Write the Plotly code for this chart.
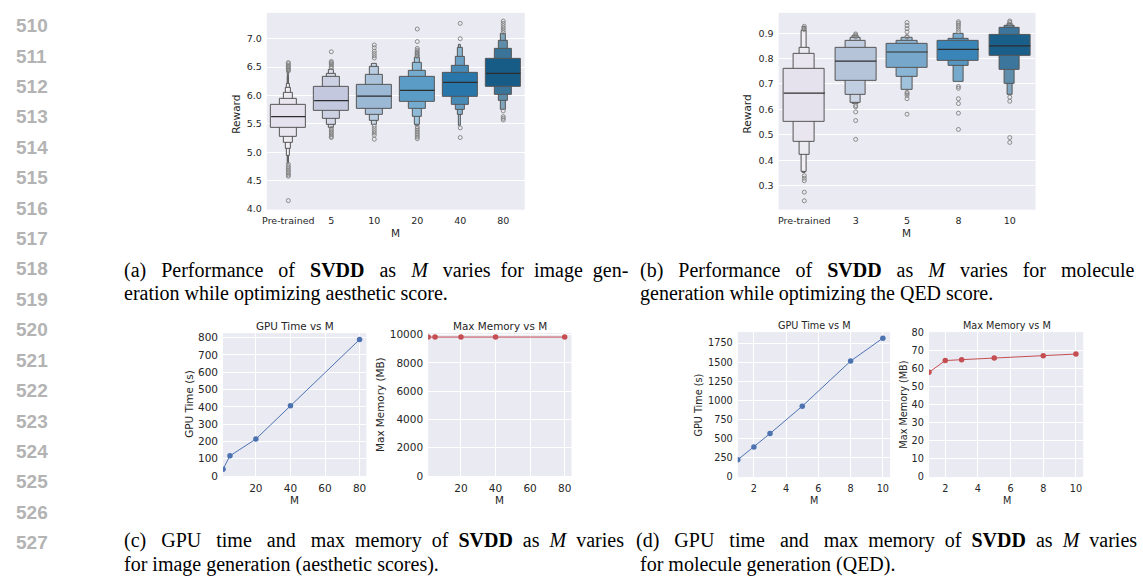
import plotly.graph_objects as go

W, H = 1143, 581

# ---------------- data ----------------
# (a) image generation, aesthetic reward: letter-value boxes (lo, hi), widest first
img_cats = ["Pre-trained", "5", "10", "20", "40", "80"]
img_median = [5.63, 5.91, 5.99, 6.09, 6.23, 6.39]
img_levels = [
    [(5.43, 5.84), (5.28, 5.95), (5.17, 6.04), (5.06, 6.13), (4.94, 6.20), (4.82, 6.32), (4.79, 6.42)],
    [(5.735, 6.145), (5.59, 6.33), (5.49, 6.385), (5.43, 6.46)],
    [(5.77, 6.19), (5.667, 6.356), (5.56, 6.51), (5.48, 6.556)],
    [(5.88, 6.33), (5.758, 6.44), (5.62, 6.567), (5.49, 6.67), (5.46, 6.76)],
    [(5.97, 6.396), (5.83, 6.527), (5.75, 6.68), (5.66, 6.84), (5.46, 6.90)],
    [(6.145, 6.64), (6.02, 6.818), (5.906, 6.97), (5.746, 7.085)],
]
img_outliers = [
    [6.43, 6.45, 6.47, 6.49, 6.51, 6.53, 6.56, 6.58, 4.79, 4.75, 4.72, 4.69, 4.66, 4.63, 4.60, 4.58, 4.15],
    [6.77, 6.60, 6.58, 6.56, 6.54, 6.51, 6.49, 5.42, 5.39, 5.36, 5.34, 5.31, 5.28, 5.26],
    [6.89, 6.84, 6.78, 6.74, 6.70, 6.66, 5.46, 5.42, 5.38, 5.34, 5.30, 5.23],
    [7.17, 6.95, 6.83, 6.80, 6.77, 6.74, 6.71, 6.69, 5.45, 5.42, 5.39, 5.36, 5.33, 5.30, 5.27, 5.24],
    [7.27, 7.00, 5.43, 5.26],
    [7.31, 7.27, 7.23, 7.19, 7.15, 7.11, 5.73, 5.63, 5.60, 5.57],
]
img_colors = ["#e5e2ed", "#c3c8de", "#9bb8d4", "#5b9cc6", "#2977aa", "#175c87"]

# (b) molecule generation, QED reward
mol_cats = ["Pre-trained", "3", "5", "8", "10"]
mol_median = [0.664, 0.790, 0.826, 0.836, 0.850]
mol_levels = [
    [(0.549, 0.761), (0.473, 0.817), (0.422, 0.843), (0.353, 0.910), (0.350, 0.925)],
    [(0.712, 0.844), (0.657, 0.868), (0.625, 0.882), (0.622, 0.890)],
    [(0.763, 0.859), (0.729, 0.871), (0.676, 0.882)],
    [(0.793, 0.868), (0.770, 0.878), (0.708, 0.897)],
    [(0.812, 0.894), (0.757, 0.920), (0.700, 0.929), (0.657, 0.935)],
]
mol_outliers = [
    [0.927, 0.920, 0.914, 0.339, 0.329, 0.319, 0.274, 0.240],
    [0.897, 0.893, 0.889, 0.885, 0.615, 0.610, 0.590, 0.556, 0.482],
    [0.942, 0.930, 0.918, 0.905, 0.887, 0.884, 0.667, 0.662, 0.655, 0.642, 0.581],
    [0.945, 0.939, 0.932, 0.925, 0.915, 0.906, 0.690, 0.683, 0.642, 0.623, 0.585, 0.521],
    [0.948, 0.943, 0.936, 0.648, 0.632, 0.489, 0.470],
]
mol_colors = ["#e5e2ed", "#b6c4da", "#77a8cc", "#3a85b7", "#1a5e8a"]

# (c) image generation cost
img_M = [1, 5, 20, 40, 80]
img_gpu_time = [40, 117, 214, 406, 789]
img_max_mem = [9820, 9820, 9820, 9820, 9820]

# (d) molecule generation cost
mol_M = [1, 2, 3, 5, 8, 10]
mol_gpu_time = [226, 393, 568, 926, 1515, 1814]
mol_max_mem = [57.8, 64.3, 64.8, 65.7, 67.0, 67.9]

# ---------------- styling ----------------
BG = "#eaeaf2"
TXT = "#262626"
EDGE = "#555555"
BLUE = "#4c72b0"
RED = "#c44e52"
SANS = "DejaVu Sans"
SERIF = "Liberation Serif"
NB = "\u00a0"


def px(x):
    return x / W


def py(y):
    return 1 - y / H


def lighten(hex_color, t):
    h = hex_color.lstrip("#")
    r, g, b = (int(h[i:i + 2], 16) for i in (0, 2, 4))
    r, g, b = (round(c + (255 - c) * t) for c in (r, g, b))
    return f"#{r:02x}{g:02x}{b:02x}"


def spread(text, total):
    """Justify a caption line by sharing `total` extra spaces among its word gaps."""
    words = text.split(" ")
    gaps = len(words) - 1
    out = words[0]
    for g, w in enumerate(words[1:]):
        n = total // gaps + (1 if g < total % gaps else 0)
        out += " " + NB * n + w
    return out


fig = go.Figure()
annotations = []


def axis_common(size):
    return dict(
        showline=False, zeroline=False, ticks="", ticklabelstandoff=4,
        gridcolor="white", gridwidth=1,
        tickfont=dict(family=SANS, size=size, color=TXT),
    )


def add_label(text, x, y, size, angle=0, family=SANS, xanchor="center", color=TXT):
    annotations.append(dict(
        text=text, x=px(x), y=py(y), xref="paper", yref="paper",
        showarrow=False, textangle=angle, xanchor=xanchor, yanchor="middle",
        font=dict(family=family, size=size, color=color),
    ))


def boxen(cats, medians, levels, outliers, colors, ax_id):
    xa = "x" if ax_id == 1 else f"x{ax_id}"
    ya = "y" if ax_id == 1 else f"y{ax_id}"
    for i, (lv, base) in enumerate(zip(levels, colors)):
        # narrowest level underneath, widest on top
        for k in reversed(range(len(lv))):
            lo, hi = lv[k]
            fig.add_trace(go.Bar(
                x=[i], base=[lo], y=[hi - lo], width=[0.8 * 0.5 ** k],
                marker=dict(color=lighten(base, min(0.15 * k, 0.85)),
                            line=dict(color=EDGE, width=1)),
                xaxis=xa, yaxis=ya, showlegend=False, hoverinfo="skip",
            ))
        fig.add_trace(go.Scatter(
            x=[i - 0.4, i + 0.4], y=[medians[i], medians[i]], mode="lines",
            line=dict(color="#2e2e2e", width=1.2),
            xaxis=xa, yaxis=ya, showlegend=False, hoverinfo="skip",
        ))
        fig.add_trace(go.Scatter(
            x=[i] * len(outliers[i]), y=outliers[i], mode="markers",
            marker=dict(symbol="circle-open", size=4, color="#808080",
                        line=dict(width=0.9, color="#808080")),
            xaxis=xa, yaxis=ya, showlegend=False, hoverinfo="skip",
        ))


def line(xs, ys, color, ax_id):
    fig.add_trace(go.Scatter(
        x=xs, y=ys, mode="lines+markers",
        line=dict(color=color, width=1),
        marker=dict(color=color, size=5.5),
        xaxis=f"x{ax_id}", yaxis=f"y{ax_id}", showlegend=False, hoverinfo="skip",
    ))


# (a) and (b) boxen plots
boxen(img_cats, img_median, img_levels, img_outliers, img_colors, 1)
boxen(mol_cats, mol_median, mol_levels, mol_outliers, mol_colors, 2)

# (c) and (d) cost curves
line(img_M, img_gpu_time, BLUE, 3)
line(img_M, img_max_mem, RED, 4)
line(mol_M, mol_gpu_time, BLUE, 5)
line(mol_M, mol_max_mem, RED, 6)

layout = dict(
    width=W, height=H, margin=dict(l=0, r=0, t=0, b=0),
    paper_bgcolor="white", plot_bgcolor=BG, barmode="overlay", bargap=0,
    showlegend=False,
)

# axis domains in pixels: (x0, x1, y_top, y_bottom)
boxes = {
    1: (263, 522, 7, 208),
    2: (777, 1035, 7, 208),
    3: (219, 363, 334, 480),
    4: (425, 569, 334, 480),
    5: (736, 889, 333, 481),
    6: (928, 1083, 333, 481),
}

for k, (x0, x1, yt, yb) in boxes.items():
    sfx = "" if k == 1 else str(k)
    layout[f"xaxis{sfx}"] = dict(domain=[px(x0), px(x1)], anchor=f"y{sfx}")
    layout[f"yaxis{sfx}"] = dict(domain=[py(yb), py(yt)], anchor=f"x{sfx}")

layout["xaxis"].update(axis_common(9.5), range=[-0.5, 5.5], tickvals=list(range(len(img_cats))),
                       ticktext=img_cats, showgrid=False)
layout["yaxis"].update(axis_common(9.5), range=[3.99, 7.455], dtick=0.5, tick0=4, tickformat=".1f")
layout["xaxis2"].update(axis_common(9.5), range=[-0.5, 4.5], tickvals=list(range(len(mol_cats))),
                        ticktext=mol_cats, showgrid=False)
layout["yaxis2"].update(axis_common(9.5), range=[0.205, 0.98], dtick=0.1, tick0=0.3, tickformat=".1f")

layout["xaxis3"].update(axis_common(10.5), range=[1, 83.95], tickvals=[20, 40, 60, 80])
layout["yaxis3"].update(axis_common(10.5), range=[0, 826], dtick=100, tickformat="d")
layout["xaxis4"].update(axis_common(10.5), range=[1, 83.95], tickvals=[20, 40, 60, 80])
layout["yaxis4"].update(axis_common(10.5), range=[0, 10100], dtick=2000, tickformat="d")
layout["xaxis5"].update(axis_common(9.7), range=[1, 10.45], tickvals=[2, 4, 6, 8, 10])
layout["yaxis5"].update(axis_common(9.7), range=[0, 1893], dtick=250, tickformat="d")
layout["xaxis6"].update(axis_common(9.7), range=[1, 10.45], tickvals=[2, 4, 6, 8, 10])
layout["yaxis6"].update(axis_common(9.7), range=[0, 80], dtick=10, tickformat="d")

# axis titles
add_label("Reward", 232, 110, 10.5, angle=-90)
add_label("M", 392, 232, 10.5)
add_label("Reward", 745, 110, 10.5, angle=-90)
add_label("M", 905, 232, 10.5)

add_label("GPU Time vs M", 291, 327, 10.4)
add_label("GPU Time (s)", 184, 407, 10.4, angle=-90)
add_label("M", 291, 504, 10.4)
add_label("Max Memory vs M", 497, 327, 10.4)
add_label("Max Memory (MB)", 376, 407, 10.4, angle=-90)
add_label("M", 497, 504, 10.4)

add_label("GPU Time vs M", 813, 326, 9.7)
add_label("GPU Time (s)", 697, 407, 9.7, angle=-90)
add_label("M", 813, 505, 9.7)
add_label("Max Memory vs M", 1006, 326, 9.7)
add_label("Max Memory (MB)", 903, 407, 9.7, angle=-90)
add_label("M", 1006, 505, 9.7)

# captions
cap = 20
ser = dict(family=SERIF, xanchor="left", color="black")
add_label(spread("(a) Performance of <b>SVDD</b> as <i>M</i> varies for image gen-", 15), 118, 270, cap, **ser)
add_label("eration while optimizing aesthetic score.", 118, 294, cap, **ser)
add_label(spread("(b) Performance of <b>SVDD</b> as <i>M</i> varies for molecule", 16), 636, 270, cap, **ser)
add_label("generation while optimizing the QED score.", 636, 294, cap, **ser)
add_label(spread("(c) GPU time and max memory of <b>SVDD</b> as <i>M</i> varies", 14), 118, 546, cap, **ser)
add_label("for image generation (aesthetic scores).", 118, 570, cap, **ser)
add_label(spread("(d) GPU time and max memory of <b>SVDD</b> as <i>M</i> varies", 14), 632, 546, cap, **ser)
add_label("for molecule generation (QED).", 636, 570, cap, **ser)

# line numbers in the margin
line_numbers = list(range(510, 528))
for j, n in enumerate(line_numbers):
    add_label(f"<b>{n}</b>", 27, 20 + j * 31.06, 19, family="Liberation Sans", color="#b3b3b3")

layout["annotations"] = annotations
fig.update_layout(**layout)
fig.write_html("out.html")
